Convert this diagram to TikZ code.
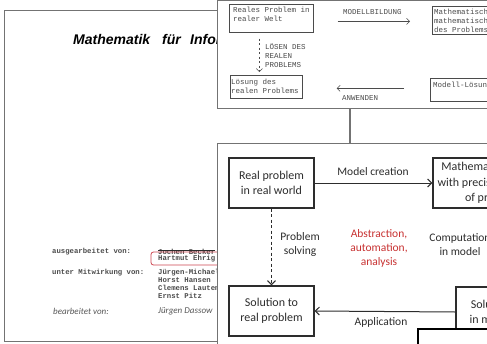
\documentclass[tikz,border=0pt]{standalone}
\usepackage{fontspec}
\setmainfont{Carlito}
\newfontfamily\typew{Liberation Mono}
\newfontfamily\titlef{Liberation Sans}
\usetikzlibrary{arrows.meta}
\definecolor{frame}{RGB}{115,115,115}
\definecolor{ink}{RGB}{45,45,45}
\definecolor{scan}{RGB}{75,75,75}
\definecolor{accent}{RGB}{200,50,50}
\definecolor{marker}{RGB}{205,70,80}

\begin{document}
\begin{tikzpicture}[x=1pt,y=-1pt,
  page/.style={draw=frame, line width=1pt, fill=white},
  typed/.style={font=\typew\bfseries\fontsize{7.3}{7.3}\selectfont, text=scan, anchor=west, inner sep=0},
  hand/.style={font=\itshape\fontsize{9}{9}\selectfont, text=ink!80, anchor=west, inner sep=0},
  scanbox/.style={draw=scan, line width=0.7pt, anchor=north west, inner sep=0},
  scantext/.style={font=\typew\fontsize{7.5}{9}\selectfont, text=scan, align=left, anchor=west, inner sep=0},
  scanarrow/.style={draw=scan, line width=0.6pt, -{Straight Barb[length=3pt,width=6pt]}},
  flowbox/.style={draw=ink, line width=1.4pt, fill=white, align=center,
    font=\fontsize{12}{15.5}\selectfont, text=ink, inner sep=0},
  flowlabel/.style={font=\fontsize{11.5}{14}\selectfont, text=ink, align=center, inner sep=0},
  flow/.style={draw=ink, line width=1pt, -{Straight Barb[length=4pt,width=8pt]}}]
\useasboundingbox (0,0) rectangle (487,343);
\clip (0,0) rectangle (487,343);

% ---- title page of the lecture notes ----
\draw[page] (4,10) rectangle (520,341);
\node[font=\titlef\bfseries\itshape\fontsize{14}{14}\selectfont, anchor=base west, inner sep=0] (t1) at (73,44) {Mathematik};
\node[font=\titlef\bfseries\itshape\fontsize{14}{14}\selectfont, anchor=base west, inner sep=0] (t2) at (162,44) {für};
\node[font=\titlef\bfseries\itshape\fontsize{14}{14}\selectfont, anchor=base west, inner sep=0] (t3) at (190,44) {Informatiker};

\node[typed] (a1) at (52,251.5) {ausgearbeitet von:};
\node[typed] (n1) at (158,251.5) {Jochen Becker};
\draw[ink, line width=0.6pt] ([yshift=0.8pt]n1.west) -- ([yshift=0.8pt]n1.east);
\node[typed] (n2) at (158,258.5) {Hartmut Ehrig};
\draw[marker, line width=0.8pt, rounded corners=2.5pt] (151,252) rectangle (240,265);
\node[typed] (a2) at (52,273) {unter Mitwirkung von:};
\node[typed] (n3) at (158,273) {Jürgen-Michael};
\node[typed] (n4) at (158,280.5) {Horst Hansen};
\node[typed] (n5) at (158,288) {Clemens Lautemann};
\node[typed] (n6) at (158,295.5) {Ernst Pitz};
\node[hand] (h1) at (53,311) {bearbeitet von:};
\node[hand] (h2) at (158,311) {Jürgen Dassow};

% ---- scanned original scheme ----
\draw[page] (217,0.5) rectangle (520,108);
\node[scanbox, minimum width=84, minimum height=28] (rp) at (229,4) {};
\node[scantext] (rpt) at (233,14.5) {Reales Problem in\\realer Welt};
\node[scanbox, minimum width=80, minimum height=28] (mm) at (432,6) {};
\node[scantext] (mmt) at (434,22) {Mathematisches Modell\\mathematische Beschreibung\\\underline{des Problems}};
\node[scantext] (mb) at (343,12) {MODELLBILDUNG};
\draw[scanarrow, shorten <=24pt, shorten >=22pt] ([shift={(0,3)}]rp.east) -- ([shift={(0,1)}]mm.west);

\node[scanbox, minimum width=72, minimum height=23] (ls) at (230,75) {};
\node[scantext] (lst) at (231,86.5) {Lösung des\\realen Problems};
\draw[scanarrow, dashed, dash pattern=on 2pt off 2.5pt] ([shift={(-12,6)}]rp.south) -- ([shift={(-7,-3)}]ls.north);
\node[scantext] (lo) at (265,55.5) {LÖSEN DES\\REALEN\\PROBLEMS};

\node[scanbox, minimum width=80, minimum height=23] (ml) at (430,78) {};
\node[scantext] (mlt) at (433,86) {Modell-Lösung};
\draw[scanarrow, shorten <=26pt, shorten >=34pt] ([shift={(0,-1.5)}]ml.west) -- ([shift={(0,1.5)}]ls.east);
\node[scantext] (an) at (342,98) {ANWENDEN};

% ---- link between the two schemes ----
\coordinate (up) at (350,108);
\coordinate (down) at (350,143);
\draw[frame, line width=1.2pt] (up) -- (down);

% ---- redrawn scheme in English ----
\draw[page] (217,143) rectangle (520,360);
\node[flowbox, minimum width=85, minimum height=50] (rw) at (271.5,183) {Real problem\\in real world};
\node[flowbox, minimum width=118, minimum height=50] (mp) at (492,183) {Mathematical model\\with precise definition\\of problem};
\node[flowbox, minimum width=85, minimum height=50] (sr) at (271.5,311) {Solution to\\real problem};
\node[flowbox, minimum width=70, minimum height=50] (sm) at (491,312) {Solution\\in model};

\draw[flow] (rw.east) -- (mp.west);
\node[flowlabel] (lmc) at (373,172) {Model creation};
\draw[flow, dashed, dash pattern=on 3pt off 2.5pt] (rw.south) -- (sr.north);
\node[flowlabel] (lps) at (300,244) {Problem\\solving};
\node[flowlabel, text=accent] (laa) at (379,248) {Abstraction,\\automation,\\analysis};
\node[flowlabel] (lcm) at (460,244.5) {Computation\\in model};
\draw[flow] (sm.west) -- (sr.east);
\node[flowlabel] (lap) at (381,322) {Application};

% ---- next panel peeking in ----
\draw[black, line width=1.6pt, fill=white] (418,329) rectangle (520,360);
\end{tikzpicture}
\end{document}
